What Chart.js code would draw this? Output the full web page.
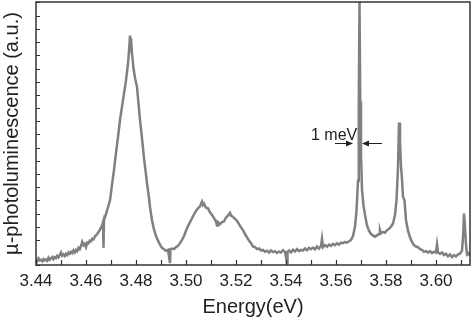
<!DOCTYPE html>
<html>
<head>
<meta charset="utf-8">
<script src="https://cdn.jsdelivr.net/npm/chart.js@4.4.1/dist/chart.umd.min.js"></script>
<style>
  html, body { margin: 0; padding: 0; background: #fff; }
  #wrap { width: 474px; height: 322px; }
</style>
</head>
<body>
<div id="wrap"><canvas id="plChart"></canvas></div>
<script>
// spectrum (energy in eV, intensity in a.u.)
var energy = [
  3.4400, 3.4405, 3.4410, 3.4415, 3.4420, 3.4425, 3.4430, 3.4435, 3.4440, 3.4445,
  3.4450, 3.4455, 3.4460, 3.4465, 3.4470, 3.4475, 3.4480, 3.4485, 3.4490, 3.4495,
  3.4500, 3.4505, 3.4510, 3.4515, 3.4520, 3.4525, 3.4530, 3.4535, 3.4540, 3.4545,
  3.4550, 3.4555, 3.4560, 3.4565, 3.4570, 3.4575, 3.4580, 3.4585, 3.4590, 3.4595,
  3.4600, 3.4605, 3.4610, 3.4615, 3.4620, 3.4625, 3.4630, 3.4635, 3.4640, 3.4645,
  3.4650, 3.4655, 3.4660, 3.4665, 3.4668, 3.4670, 3.4672, 3.4680, 3.4688, 3.4696,
  3.4704, 3.4712, 3.4720, 3.4728, 3.4736, 3.4744, 3.4752, 3.4760, 3.4768, 3.4772,
  3.4776, 3.4778, 3.4780, 3.4784, 3.4790, 3.4796, 3.4804, 3.4816, 3.4824, 3.4832,
  3.4836, 3.4844, 3.4852, 3.4856, 3.4864, 3.4872, 3.4880, 3.4888, 3.4896, 3.4904,
  3.4912, 3.4920, 3.4928, 3.4936, 3.4938, 3.4944, 3.4952, 3.4960, 3.4968, 3.4976,
  3.4984, 3.4992, 3.5000, 3.5008, 3.5016, 3.5024, 3.5032, 3.5040, 3.5048, 3.5056,
  3.5064, 3.5068, 3.5072, 3.5080, 3.5088, 3.5096, 3.5104, 3.5112, 3.5120, 3.5124,
  3.5128, 3.5136, 3.5144, 3.5152, 3.5160, 3.5168, 3.5176, 3.5180, 3.5188, 3.5196,
  3.5204, 3.5212, 3.5220, 3.5228, 3.5236, 3.5244, 3.5252, 3.5260, 3.5268, 3.5276,
  3.5284, 3.5292, 3.5300, 3.5308, 3.5316, 3.5324, 3.5332, 3.5340, 3.5348, 3.5356,
  3.5364, 3.5372, 3.5380, 3.5388, 3.5396, 3.5404, 3.5406, 3.5412, 3.5420, 3.5428,
  3.5436, 3.5444, 3.5452, 3.5460, 3.5468, 3.5476, 3.5484, 3.5492, 3.5500, 3.5508,
  3.5516, 3.5524, 3.5532, 3.5540, 3.5544, 3.5548, 3.5556, 3.5564, 3.5572, 3.5580,
  3.5588, 3.5596, 3.5604, 3.5612, 3.5620, 3.5628, 3.5636, 3.5644, 3.5652, 3.5660,
  3.5668, 3.5676, 3.5682, 3.5688, 3.5691, 3.5694, 3.5697, 3.5700, 3.5704, 3.5710,
  3.5716, 3.5724, 3.5732, 3.5740, 3.5748, 3.5756, 3.5764, 3.5772, 3.5776, 3.5780,
  3.5788, 3.5796, 3.5804, 3.5812, 3.5820, 3.5828, 3.5836, 3.5842, 3.5848, 3.5852,
  3.5856, 3.5860, 3.5864, 3.5868, 3.5874, 3.5880, 3.5888, 3.5896, 3.5904, 3.5912,
  3.5920, 3.5928, 3.5936, 3.5944, 3.5952, 3.5960, 3.5968, 3.5976, 3.5984, 3.5992,
  3.6000, 3.6004, 3.6008, 3.6016, 3.6024, 3.6032, 3.6040, 3.6048, 3.6056, 3.6064,
  3.6072, 3.6080, 3.6088, 3.6096, 3.6104, 3.6108, 3.6112, 3.6116, 3.6120, 3.6124,
  3.6130, 3.6136
];
var intensity = [
  -0.45, -0.60, -0.40, -0.55, -0.50, -0.62, -0.45, -0.55, -0.48, -0.58,
  -0.35, -0.50, -0.40, -0.30, -0.45, -0.30, -0.38, -0.20, -0.32, -0.15,
  0.05, -0.20, -0.10, -0.22, -0.05, -0.15, 0.05, -0.05, 0.10, 0.00,
  0.20, 0.05, 0.25, 0.15, 0.40, 0.30, 0.55, 0.85, 0.60, 0.70,
  0.45, 0.80, 0.75, 0.95, 0.90, 1.10, 1.05, 1.25, 1.35, 1.45,
  1.60, 1.75, 1.95, 2.15, 2.35, 0.40, 2.50, 2.95, 3.48, 4.00,
  5.20, 6.30, 7.60, 8.80, 10.1, 11.1, 12.1, 13.1, 14.4, 15.3,
  16.5, 16.0, 16.3, 15.2, 14.0, 13.3, 12.6, 10.1, 8.70, 7.20,
  6.60, 5.30, 4.20, 3.50, 2.50, 1.80, 1.30, 0.95, 0.65, 0.40,
  0.30, 0.18, 0.25, -0.76, 0.30, 0.35, 0.30, 0.45, 0.55, 0.76,
  1.00, 1.30, 1.70, 2.05, 2.35, 2.65, 2.95, 3.20, 3.40, 3.55,
  3.90, 3.65, 3.75, 3.45, 3.40, 3.10, 2.90, 2.65, 2.40, 2.10,
  2.35, 2.20, 2.35, 2.40, 2.70, 2.85, 3.05, 2.85, 2.75, 2.60,
  2.45, 2.20, 1.95, 1.75, 1.45, 1.20, 0.95, 0.75, 0.50, 0.45,
  0.30, 0.35, 0.20, 0.25, 0.10, 0.18, 0.05, 0.20, 0.08, 0.15,
  0.02, 0.12, 0.05, 0.22, 0.10, -0.76, 0.10, 0.20, 0.05, 0.25,
  0.12, 0.30, 0.15, 0.25, 0.20, 0.35, 0.22, 0.40, 0.30, 0.42,
  0.28, 0.50, 0.35, 0.55, 1.10, 0.45, 0.60, 0.50, 0.65, 0.55,
  0.70, 0.60, 0.75, 0.65, 0.80, 0.75, 0.85, 0.80, 0.90, 1.00,
  1.30, 2.00, 3.20, 5.50, 11.0, 19.2, 11.5, 7.50, 4.80, 3.60,
  2.90, 2.10, 1.70, 1.45, 1.35, 1.25, 1.35, 1.45, 1.75, 1.50,
  1.60, 1.55, 1.75, 1.85, 2.00, 2.25, 2.90, 4.00, 6.50, 9.90,
  8.50, 6.60, 5.60, 4.30, 4.00, 2.50, 1.70, 1.20, 0.85, 0.60,
  0.50, 0.45, 0.30, 0.25, 0.10, 0.15, 0.05, 0.15, 0.00, 0.10,
  0.05, 0.65, 0.05, -0.05, 0.05, -0.15, -0.05, -0.25, -0.10, -0.30,
  -0.15, -0.25, -0.10, -0.05, 0.20, 1.20, 3.00, 2.00, 0.60, -0.10,
  0.00, -0.20
];

// x tick labels and the FWHM marker
var xTickLabels = ['3.44', '3.46', '3.48', '3.50', '3.52', '3.54', '3.56', '3.58', '3.60'];
var fwhmText = '1 meV';
var fwhmTextAt = [3.5685, 8.9];
var fwhmLeftArrow = [3.5596, 3.5668];   // tail, head
var fwhmRightArrow = [3.5784, 3.5704];  // tail, head
var fwhmLevel = 8.33;

var points = energy.map(function (e, i) { return { x: e, y: intensity[i] }; });

var frameAndTicks = {
  id: 'frameAndTicks',
  afterDatasetsDraw: function (chart) {
    var c = chart.ctx, a = chart.chartArea;
    var xs = chart.scales.x, ys = chart.scales.y;
    c.save();
    c.strokeStyle = '#333';
    c.lineWidth = 1.5;
    c.strokeRect(a.left, a.top, a.right - a.left, a.bottom - a.top);
    c.lineWidth = 1.2;
    c.beginPath();
    xs.ticks.forEach(function (t) {
      var px = Math.round(xs.getPixelForValue(t.value)) + 0.5;
      c.moveTo(px, a.bottom);
      c.lineTo(px, a.bottom - 5);
    });
    ys.ticks.forEach(function (t) {
      var py = Math.round(ys.getPixelForValue(t.value)) + 0.5;
      c.moveTo(a.left, py);
      c.lineTo(a.left + 4, py);
    });
    c.stroke();

    // 1 meV label with arrows
    c.fillStyle = '#222';
    c.strokeStyle = '#222';
    c.lineWidth = 1;
    c.font = '16px "Liberation Sans", Arial, sans-serif';
    c.textAlign = 'right';
    c.textBaseline = 'middle';
    c.fillText(fwhmText, xs.getPixelForValue(fwhmTextAt[0]), ys.getPixelForValue(fwhmTextAt[1]));
    var ly = Math.round(ys.getPixelForValue(fwhmLevel)) + 0.5;
    [fwhmLeftArrow, fwhmRightArrow].forEach(function (arr) {
      var x0 = xs.getPixelForValue(arr[0]), x1 = xs.getPixelForValue(arr[1]);
      var dir = x1 > x0 ? 1 : -1;
      c.beginPath();
      c.moveTo(x0, ly);
      c.lineTo(x1 - dir * 5, ly);
      c.stroke();
      c.beginPath();
      c.moveTo(x1, ly);
      c.lineTo(x1 - dir * 7, ly - 3);
      c.lineTo(x1 - dir * 7, ly + 3);
      c.closePath();
      c.fill();
    });
    c.restore();
  }
};

var ctx = document.getElementById('plChart').getContext('2d');

var plChart = new Chart(ctx, {
  type: 'line',
  data: {
    datasets: [{
      data: points,
      borderColor: '#808080',
      borderWidth: 2.5,
      pointRadius: 0,
      tension: 0,
      fill: false
    }]
  },
  options: {
    responsive: true,
    maintainAspectRatio: false,
    animation: false,
    layout: { padding: { top: 2, right: 4, left: 0, bottom: 0 } },
    plugins: {
      legend: { display: false },
      tooltip: { enabled: false }
    },
    scales: {
      x: {
        type: 'linear',
        min: 3.44,
        max: 3.6136,
        grid: { display: false, drawTicks: false },
        border: { display: false },
        ticks: {
          stepSize: 0.01,
          includeBounds: false,
          autoSkip: false,
          maxRotation: 0,
          padding: 6,
          color: '#222',
          font: { family: '"Liberation Sans", Arial, sans-serif', size: 17 },
          callback: function (v) {
            var s = v.toFixed(2);
            return xTickLabels.indexOf(s) >= 0 ? s : '';
          }
        },
        title: {
          display: true,
          text: 'Energy(eV)',
          color: '#222',
          padding: { top: 0, bottom: 3 },
          font: { family: '"Liberation Sans", Arial, sans-serif', size: 20 }
        },
        afterFit: function (scale) { scale.height = 57; }
      },
      y: {
        min: -0.9,
        max: 19.05,
        grid: { display: false, drawTicks: false },
        border: { display: false },
        ticks: {
          stepSize: 1,
          display: false
        },
        title: {
          display: true,
          text: 'µ-photoluminescence (a.u.)',
          color: '#222',
          padding: 0,
          font: { family: '"Liberation Sans", Arial, sans-serif', size: 20 }
        },
        afterFit: function (scale) { scale.width = 36; }
      }
    }
  },
  plugins: [frameAndTicks]
});
</script>
</body>
</html>
